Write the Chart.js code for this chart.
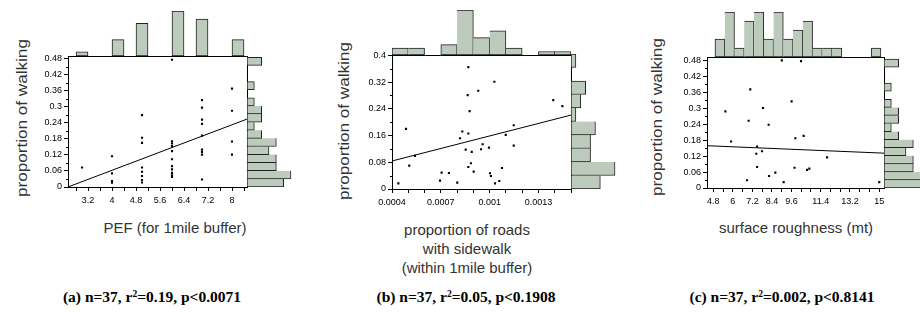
<!DOCTYPE html>
<html><head><meta charset="utf-8">
<script src="https://cdn.jsdelivr.net/npm/chart.js@4.4.1/dist/chart.umd.min.js"></script>
<style>
html,body{margin:0;padding:0;background:#fff;width:920px;height:312px;overflow:hidden;position:relative}
canvas{position:absolute;display:block}
.t{position:absolute;white-space:nowrap;font-family:"Liberation Sans",Arial,Helvetica,sans-serif;color:#333;font-size:15px;line-height:1;transform:translate(-50%,-50%)}
.ty{transform:translate(-50%,-50%) rotate(-90deg) scaleX(1.14)}
.cap{position:absolute;white-space:nowrap;font-family:"Liberation Serif","Times New Roman",serif;font-weight:bold;font-size:15.5px;color:#000;line-height:1;transform:translate(-50%,-50%)}
.cap sup{font-size:0.62em;vertical-align:0.55em;line-height:0}
</style></head><body>
<div class="t ty" style="left:21px;top:118px">proportion of walking</div>
<div class="t ty" style="left:343px;top:121px">proportion of walking</div>
<div class="t ty" style="left:656px;top:117px">proportion of walking</div>
<div class="t" style="left:175px;top:227px">PEF (for 1mile buffer)</div>
<div class="t" style="left:467px;top:229px">proportion of roads</div>
<div class="t" style="left:467px;top:248px">with sidewalk</div>
<div class="t" style="left:467px;top:267px">(within 1mile buffer)</div>
<div class="t" style="left:796px;top:227px">surface roughness (mt)</div>
<div class="cap" style="left:152px;top:297px">(a) n=37, r<sup>2</sup>=0.19, p&lt;0.0071</div>
<div class="cap" style="left:466px;top:297px">(b) n=37, r<sup>2</sup>=0.05, p&lt;0.1908</div>
<div class="cap" style="left:782px;top:297px">(c) n=37, r<sup>2</sup>=0.002, p&lt;0.8141</div>
<script>
// ---------- data ----------
// (a) PEF vs proportion of walking
const pefX = [3, 4,4,4,4, 5,5,5,5,5,5,5,5, 6,6,6,6,6,6,6,6,6,6,6, 7,7,7,7,7,7,7,7,7, 8,8,8,8];
const walkA = [0.073, 0.115,0.051,0.022,0.016,
  0.269,0.184,0.165,0.073,0.057,0.041,0.026,0.017,
  0.476,0.171,0.163,0.153,0.134,0.104,0.078,0.066,0.053,0.044,0.038,
  0.325,0.297,0.252,0.236,0.192,0.140,0.131,0.121,0.028,
  0.368,0.285,0.170,0.121];
const xRangeA = [2.533, 8.5];
const yRangeA = [0, 0.4885];
const xTickSpanA = [2.8, 8.4, 0.4];
const xLabelsA = [3.2, 4, 4.8, 5.6, 6.4, 7.2, 8];
const yLabelsA = [0, 0.06, 0.12, 0.18, 0.24, 0.3, 0.36, 0.42, 0.48];
const topBinA = [2.8, 0.4];
const topCountsA = [1,0,0,4,0,8,0,0,11,0,9,0,0,4];
const sideBinA = [0, 0.03];
const sideCountsA = [5,6,4,4,3,4,2,1,2,2,1,0,1,0,0,2];
const regA = [0.04257, -0.1078];

// (b) proportion of roads with sidewalk
const sidewalkX = [0.000439,0.000486,0.000506,0.000541,0.000695,0.000705,0.00075,0.000801,
  0.000818,0.000832,0.000853,0.000865,0.000869,0.000877,0.000869,0.000869,0.000885,0.00089,
  0.000902,0.00093,0.000947,0.000957,0.000996,0.001002,0.001008,0.001029,0.001033,0.001059,
  0.001076,0.001099,0.001148,0.001148,0.001391,0.001447];
const walkB = [0.017,0.180,0.070,0.099,0.025,0.049,0.048,0.019,
  0.152,0.172,0.118,0.281,0.365,0.233,0.166,0.066,0.077,0.111,
  0.052,0.294,0.119,0.134,0.124,0.047,0.039,0.321,0.017,0.024,
  0.063,0.162,0.191,0.130,0.266,0.248];
const xRangeB = [0.0004, 0.0015];
const yRangeB = [0, 0.4];
const xTickSpanB = [0.0004, 0.0015, 0.0001];
const xLabelsB = [0.0004, 0.0007, 0.001, 0.0013];
const yLabelsB = [0, 0.08, 0.16, 0.24, 0.32, 0.4];
const topBinB = [0.0004, 0.0001];
const topCountsB = [2,2,0,3,13,5,7,2,0,1,1];
const sideBinB = [0, 0.04];
const sideCountsB = [6,9,4,4,5,1,2,3,0,1];
const regB = [124.9, 0.0339];

// (c) surface roughness
const roughX = [5.54,5.89,6.87,6.97,7.07,7.44,7.49,7.49,7.79,7.85,8.22,8.2,
  8.61,9.01,9.12,9.61,9.79,9.84,10.19,10.35,10.56,10.7,11.79,15.0];
const walkC = [0.288,0.175,0.029,0.253,0.371,0.129,0.156,0.079,0.138,0.301,0.045,0.238,
  0.058,0.480,0.022,0.326,0.076,0.187,0.477,0.196,0.068,0.073,0.115,0.022];
const xRangeC = [4.41, 15.29];
const yRangeC = [0, 0.4912];
const xTickSpanC = [4.8, 15, 0.6];
const xLabelsC = [4.8, 6, 7.2, 8.4, 9.6, 11.4, 13.2, 15];
const yLabelsC = [0, 0.06, 0.12, 0.18, 0.24, 0.3, 0.36, 0.42, 0.48];
const topBinC = [4.9, 0.6];
const topCountsC = [2,5,1,4,5,2,5,2,3,4,1,1,1,0,0,0,1];
const sideBinC = [0, 0.03];
const sideCountsC = [5,6,4,4,3,4,2,1,2,2,1,0,1,0,0,2];
const regC = [-0.002574, 0.1704];

// ---------- layout / style ----------
const HFILL = '#bdcbbc', HEDGE = '#222';
const FONT = '"Liberation Sans", Arial, Helvetica, sans-serif';
const PAD = 6, WY = 44, HX = 26, HTOP = 44, WSIDE = 45;

function steps(from, to, step){ const o=[]; for(let k=0; from + k*step <= to + step*1e-6; k++) o.push(+(from + k*step).toFixed(9)); return o; }
function mids(a){ const o=[]; for(let i=0;i<a.length-1;i++) o.push((a[i]+a[i+1])/2); return o; }
function mk(x,y,w,h){ const c=document.createElement('canvas'); c.width=w; c.height=h; c.style.left=x+'px'; c.style.top=y+'px'; c.style.width=w+'px'; c.style.height=h+'px'; document.body.appendChild(c); return c; }

const boxPlugin = { id:'box', afterDraw(chart){ const a=chart.chartArea, ctx=chart.ctx; ctx.save(); ctx.strokeStyle='#000'; ctx.lineWidth=1;
  ctx.strokeRect(Math.round(a.left)+0.5, Math.round(a.top)+0.5, Math.round(a.right-a.left), Math.round(a.bottom-a.top)); ctx.restore(); } };
const minorPlugin = { id:'minorY', afterDraw(chart, args, opts){ const vals=opts.values||[]; const s=chart.scales.y, a=chart.chartArea, ctx=chart.ctx;
  ctx.save(); ctx.strokeStyle='#000'; ctx.lineWidth=1; ctx.beginPath();
  vals.forEach(v=>{ const y=Math.round(s.getPixelForValue(v))+0.5; ctx.moveTo(a.left-2, y); ctx.lineTo(a.left, y); });
  ctx.stroke(); ctx.restore(); } };

const base = { animation:false, responsive:false, devicePixelRatio:1, events:[] };

function panel(P){
  const G = P.box;
  const w = (G.R-G.L) + WY + PAD, h = (G.B-G.T) + PAD + HX;
  const c = mk(G.L - WY, G.T - PAD, w, h);
  const xt = steps(P.xSpan[0], P.xSpan[1], P.xSpan[2]);
  const lab = (arr) => function(v){ const m = arr.find(l => Math.abs(l - v) < 1e-9); return m === undefined ? '' : String(m); };
  new Chart(c, {
    type:'scatter',
    data:{ datasets:[
      { data: P.xs.map((x,i)=>({x, y:P.ys[i]})), pointStyle:'rect', pointRadius:1.5, backgroundColor:'#000', borderWidth:0 },
      { type:'line', data:[{x:P.xr[0], y:P.reg[1]+P.reg[0]*P.xr[0]}, {x:P.xr[1], y:P.reg[1]+P.reg[0]*P.xr[1]}],
        borderColor:'#000', borderWidth:1, pointRadius:0, showLine:true, fill:false, tension:0 }
    ]},
    options:Object.assign({}, base, {
      layout:{ padding:{ top:PAD, right:PAD, left:0, bottom:0 } },
      plugins:{ legend:{display:false}, tooltip:{enabled:false}, minorY:{ values: mids(P.yLabels) } },
      scales:{
        x:{ type:'linear', min:P.xr[0], max:P.xr[1], offset:false,
            afterBuildTicks: s => { s.ticks = xt.map(v=>({value:v})); },
            afterFit: s => { s.height = HX; },
            ticks:{ callback: lab(P.xLabels), autoSkip:false, maxRotation:0, minRotation:0, padding:4, color:'#000', font:{ family:FONT, size:9 } },
            grid:{ display:true, drawOnChartArea:false, drawTicks:true, tickLength:4, tickColor:'#000', color:'#000' },
            border:{ display:false } },
        y:{ type:'linear', min:P.yr[0], max:P.yr[1], offset:false,
            afterBuildTicks: s => { s.ticks = P.yLabels.map(v=>({value:v})); },
            afterFit: s => { s.width = WY; },
            ticks:{ callback: lab(P.yLabels), autoSkip:false, padding:2, color:'#000', font:{ family:FONT, size:9 } },
            grid:{ display:true, drawOnChartArea:false, drawTicks:true, tickLength:4, tickColor:'#000', color:'#000' },
            border:{ display:false } }
      }
    }),
    plugins:[boxPlugin, minorPlugin]
  });

  // top histogram
  const tc = mk(G.L, G.T - HTOP, G.R - G.L, HTOP + 1);
  const tCenters = P.topCounts.map((n,i)=> +(P.topBin[0] + (i+0.5)*P.topBin[1]).toFixed(9));
  new Chart(tc, {
    type:'bar',
    data:{ datasets:[{ data: P.topCounts.map((n,i)=>({x:tCenters[i], y: n===0 ? null : n})),
      backgroundColor:HFILL, borderColor:HEDGE, borderSkipped:false, barPercentage:1, categoryPercentage:1,
      borderWidth: ctx => ({ top:1, right:1, bottom:1, left: (ctx.dataIndex===0 || P.topCounts[ctx.dataIndex-1]===0) ? 1 : 0 }) }] },
    options:Object.assign({}, base, {
      layout:{ padding:0 },
      plugins:{ legend:{display:false}, tooltip:{enabled:false} },
      scales:{
        x:{ type:'linear', display:false, offset:false, min:P.xr[0], max:P.xr[1], afterBuildTicks: s => { s.ticks = tCenters.map(v=>({value:v})); } },
        y:{ type:'linear', display:false, min:0, max:Math.max(...P.topCounts) }
      }
    })
  });

  // right histogram
  const sc = mk(G.R, G.T, WSIDE, G.B - G.T);
  const sCenters = P.sideCounts.map((n,i)=> +(P.sideBin[0] + (i+0.5)*P.sideBin[1]).toFixed(9));
  new Chart(sc, {
    type:'bar',
    data:{ datasets:[{ data: P.sideCounts.map((n,i)=>({y:sCenters[i], x: n===0 ? null : n})),
      backgroundColor:HFILL, borderColor:HEDGE, borderSkipped:false, barPercentage:1, categoryPercentage:1,
      borderWidth: ctx => ({ left:1, right:1, bottom:1, top: (ctx.dataIndex===P.sideCounts.length-1 || P.sideCounts[ctx.dataIndex+1]===0) ? 1 : 0 }) }] },
    options:Object.assign({}, base, {
      indexAxis:'y',
      layout:{ padding:0 },
      plugins:{ legend:{display:false}, tooltip:{enabled:false} },
      scales:{
        y:{ type:'linear', display:false, offset:false, min:P.yr[0], max:P.yr[1], afterBuildTicks: s => { s.ticks = sCenters.map(v=>({value:v})); } },
        x:{ type:'linear', display:false, min:0, max:Math.max(...P.sideCounts) * WSIDE / 44 }
      }
    })
  });
}

panel({ box:{L:68, T:55, R:247, B:187}, xs:pefX, ys:walkA, xr:xRangeA, yr:yRangeA, xSpan:xTickSpanA, xLabels:xLabelsA, yLabels:yLabelsA,
  topBin:topBinA, topCounts:topCountsA, sideBin:sideBinA, sideCounts:sideCountsA, reg:regA });
panel({ box:{L:392, T:54, R:571, B:189}, xs:sidewalkX, ys:walkB, xr:xRangeB, yr:yRangeB, xSpan:xTickSpanB, xLabels:xLabelsB, yLabels:yLabelsB,
  topBin:topBinB, topCounts:topCountsB, sideBin:sideBinB, sideCounts:sideCountsB, reg:regB });
panel({ box:{L:707, T:56, R:884, B:188}, xs:roughX, ys:walkC, xr:xRangeC, yr:yRangeC, xSpan:xTickSpanC, xLabels:xLabelsC, yLabels:yLabelsC,
  topBin:topBinC, topCounts:topCountsC, sideBin:sideBinC, sideCounts:sideCountsC, reg:regC });
</script>
</body></html>
